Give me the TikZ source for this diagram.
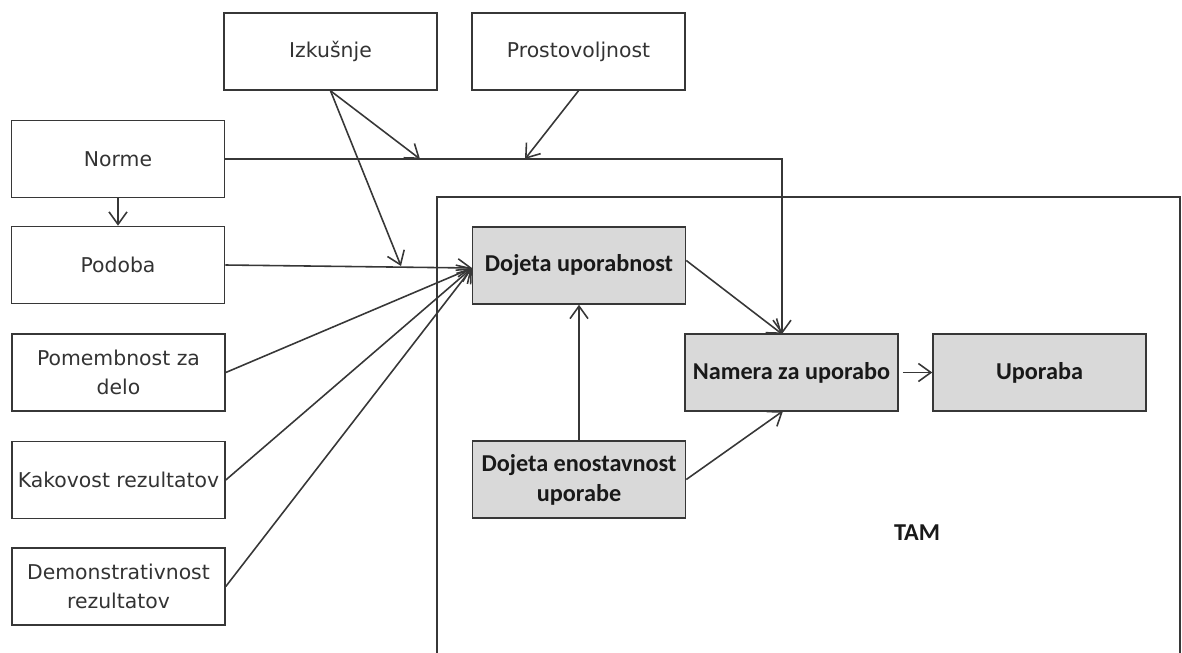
\documentclass[tikz,border=0pt]{standalone}
\usepackage{fontspec}
\setmainfont{DejaVu Sans}
\newfontfamily\calfont{Carlito}
\usetikzlibrary{arrows.meta}
\definecolor{boxfill}{RGB}{217,217,217}
\definecolor{inkgray}{RGB}{55,55,55}
\begin{document}
\begin{tikzpicture}[
            x=0.02cm, y=-0.02cm,
            factor/.style={draw=inkgray, line width=0.9pt, minimum width=4.26cm, minimum height=1.54cm,
                inner sep=1pt, align=center, text=black!80, font=\fontsize{11.6}{16.5}\selectfont},
            tambox/.style={factor, fill=boxfill, text=black!90, font=\calfont\bfseries\fontsize{13.8}{17}\selectfont},
            link/.style={draw=inkgray, line width=0.9pt, -{Straight Barb[length=2.5mm,width=3.6mm]}}
        ]
            \useasboundingbox (0,0) rectangle (1182,652);

            % TAM frame
            \draw[draw=inkgray, line width=0.9pt] (437,653) |- (1180,197) -- (1180,653);
            \node[text=black!90, font=\calfont\bfseries\fontsize{13.8}{17}\selectfont] (tam) at (917,533) {TAM};

            \node[factor] (izk) at (330.5,51.5) {Izkušnje};
            \node[factor] (pro) at (578.5,51.5) {Prostovoljnost};
            \node[factor] (norme) at (118,159) {Norme};
            \node[factor] (podoba) at (118,265) {Podoba};
            \node[factor] (pomemb) at (118.5,372.5) {Pomembnost za\\delo};
            \node[factor] (kakov) at (118.5,480) {Kakovost rezultatov};
            \node[factor] (demo) at (118.5,586.5) {Demonstrativnost\\rezultatov};

            \node[tambox] (dup) at (579,265.5) {Dojeta uporabnost};
            \node[tambox] (den) at (579,479.5) {Dojeta enostavnost\\uporabe};
            \node[tambox] (namera) at (791.5,372.5) {Namera za uporabo};
            \node[tambox] (uporaba) at (1039.5,372.5) {Uporaba};

            \coordinate (normhit) at (420,159);
            \coordinate (volhit) at (525,159);
            \coordinate (imghit) at (401,266);
            \coordinate (dupin) at (472,268);
            \coordinate (namtop) at (782,334);
            \coordinate (nambot) at (783,411);

            \draw[link] (norme.east) -| (namtop);
            \draw[link] (norme.south) -- (podoba.north);
            \draw[link] (izk.south) -- (normhit);
            \draw[link] (izk.south) -- (imghit);
            \draw[link] (pro.south) -- (volhit);

            \draw[link] (podoba.east) -- (dupin);
            \draw[link] (pomemb.east) -- (dupin);
            \draw[link] (kakov.east) -- (dupin);
            \draw[link] (demo.east) -- (dupin);

            \draw[link] (dup.east) ++(0,-5) -- (namtop);
            \draw[link] (den.north) -- (dup.south);
            \draw[link] (den.east) -- (nambot);
            \draw[link] (namera.east) ++(4,0) -- (uporaba.west);
        \end{tikzpicture}
\end{document}
